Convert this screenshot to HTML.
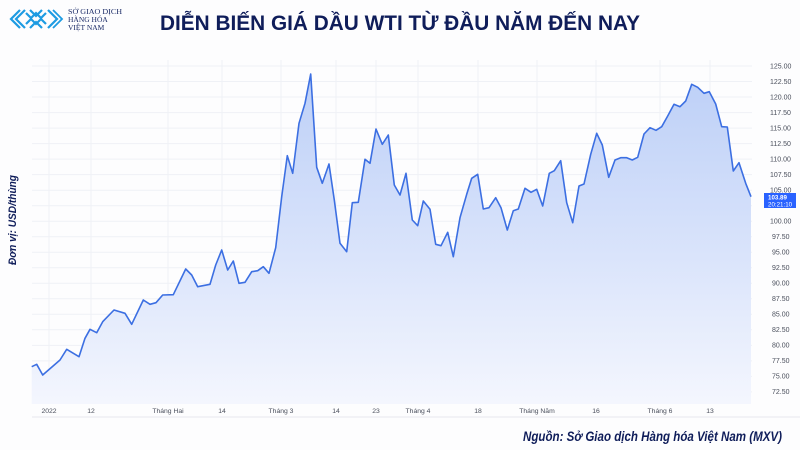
<!DOCTYPE html>
<html><head><meta charset="utf-8"><style>
html,body{margin:0;padding:0;background:#fff;}
svg{display:block;}
</style></head><body>
<svg width="800" height="450" viewBox="0 0 800 450" xmlns="http://www.w3.org/2000/svg">
<defs>
<linearGradient id="g" gradientUnits="userSpaceOnUse" x1="0" y1="70" x2="0" y2="410">
<stop offset="0" stop-color="#bccff7"/>
<stop offset="0.55" stop-color="#dae4fb"/>
<stop offset="1" stop-color="#f5f7fe"/>
</linearGradient>
</defs>
<rect width="800" height="450" fill="#fdfdfe"/>
<!-- grid -->
<g stroke="#eff1f6" stroke-width="1">
<line x1="32" y1="66" x2="752" y2="66"/><line x1="32" y1="81.5" x2="752" y2="81.5"/><line x1="32" y1="97" x2="752" y2="97"/><line x1="32" y1="112.6" x2="752" y2="112.6"/><line x1="32" y1="128.1" x2="752" y2="128.1"/><line x1="32" y1="143.6" x2="752" y2="143.6"/><line x1="32" y1="159.1" x2="752" y2="159.1"/><line x1="32" y1="174.6" x2="752" y2="174.6"/><line x1="32" y1="190.2" x2="752" y2="190.2"/><line x1="32" y1="205.7" x2="752" y2="205.7"/><line x1="32" y1="221.2" x2="752" y2="221.2"/><line x1="32" y1="236.7" x2="752" y2="236.7"/><line x1="32" y1="252.2" x2="752" y2="252.2"/><line x1="32" y1="267.8" x2="752" y2="267.8"/><line x1="32" y1="283.3" x2="752" y2="283.3"/><line x1="32" y1="298.8" x2="752" y2="298.8"/><line x1="32" y1="314.3" x2="752" y2="314.3"/><line x1="32" y1="329.8" x2="752" y2="329.8"/><line x1="32" y1="345.4" x2="752" y2="345.4"/><line x1="32" y1="360.9" x2="752" y2="360.9"/><line x1="32" y1="376.4" x2="752" y2="376.4"/><line x1="32" y1="391.9" x2="752" y2="391.9"/>
<line x1="49" y1="60" x2="49" y2="404"/><line x1="91" y1="60" x2="91" y2="404"/><line x1="168" y1="60" x2="168" y2="404"/><line x1="222" y1="60" x2="222" y2="404"/><line x1="281" y1="60" x2="281" y2="404"/><line x1="336" y1="60" x2="336" y2="404"/><line x1="376" y1="60" x2="376" y2="404"/><line x1="418" y1="60" x2="418" y2="404"/><line x1="478" y1="60" x2="478" y2="404"/><line x1="537" y1="60" x2="537" y2="404"/><line x1="596" y1="60" x2="596" y2="404"/><line x1="660" y1="60" x2="660" y2="404"/><line x1="710" y1="60" x2="710" y2="404"/>
</g>
<line x1="32" y1="417" x2="800" y2="417" stroke="#e6e8ee" stroke-width="1"/>
<polygon fill="url(#g)" points="31.7,366.7 36.7,364.3 42.7,375 60,360 66.7,349.3 79,356.7 85,338.3 90,329.3 96.7,332.7 102.7,321.7 114,310 125,313.3 131.7,324.3 143.3,300 150,304.3 156,302.7 162.7,295 173.3,294.7 185.7,269 191.7,275 197.7,286.7 210,284.3 215.7,265 221.7,250 227.7,270 233.3,261 239,283.3 245,282.3 251.7,271.7 257.7,270.7 263.3,266.7 269,273.3 275.7,247.7 281.7,196.7 287.3,155.7 292.7,173.3 299,123.3 305,103.3 310.7,74 316.7,167.3 322.3,183.3 329,164 334.3,200 340,243.3 346.7,251.7 352.3,202.7 358.3,202.3 365,159.3 370,163.3 376,129 382.3,144.3 388.3,135 394.3,185 400,195 406,173.3 412.3,220 417.7,225.7 423.3,201 430,209.3 435.7,244.3 441,245.7 447.7,232.3 453.3,256.7 460,217.7 466.7,194.3 471.7,178.3 477.7,174.3 483.3,209 489,207.7 495.7,197.7 501,207.7 507.3,230 513.3,210.7 518.3,209 525,188.3 531,192.3 536.7,189.3 542.7,206 549.3,173.3 554.3,170.7 560.7,160.7 566.7,202.7 572.7,222.7 579,186 584,184 590.7,154.3 596.7,133.3 602.3,145 608.7,177.3 615,160 620.7,157.7 626.7,157.7 632.3,160 637.7,157.3 644,134 650,127.7 656,130.3 661.7,126.7 667.7,116 674,104.3 680,106.7 685.7,101 691.7,84.3 697.7,87.3 704,93.3 709.3,91.7 715.7,104 721.7,126.7 727.3,127 733.3,171 739,162.7 745.7,183.3 751,196.7 751,404 31.7,404"/>
<polyline fill="none" stroke="#3c6fe2" stroke-width="1.6" stroke-linejoin="round" points="31.7,366.7 36.7,364.3 42.7,375 60,360 66.7,349.3 79,356.7 85,338.3 90,329.3 96.7,332.7 102.7,321.7 114,310 125,313.3 131.7,324.3 143.3,300 150,304.3 156,302.7 162.7,295 173.3,294.7 185.7,269 191.7,275 197.7,286.7 210,284.3 215.7,265 221.7,250 227.7,270 233.3,261 239,283.3 245,282.3 251.7,271.7 257.7,270.7 263.3,266.7 269,273.3 275.7,247.7 281.7,196.7 287.3,155.7 292.7,173.3 299,123.3 305,103.3 310.7,74 316.7,167.3 322.3,183.3 329,164 334.3,200 340,243.3 346.7,251.7 352.3,202.7 358.3,202.3 365,159.3 370,163.3 376,129 382.3,144.3 388.3,135 394.3,185 400,195 406,173.3 412.3,220 417.7,225.7 423.3,201 430,209.3 435.7,244.3 441,245.7 447.7,232.3 453.3,256.7 460,217.7 466.7,194.3 471.7,178.3 477.7,174.3 483.3,209 489,207.7 495.7,197.7 501,207.7 507.3,230 513.3,210.7 518.3,209 525,188.3 531,192.3 536.7,189.3 542.7,206 549.3,173.3 554.3,170.7 560.7,160.7 566.7,202.7 572.7,222.7 579,186 584,184 590.7,154.3 596.7,133.3 602.3,145 608.7,177.3 615,160 620.7,157.7 626.7,157.7 632.3,160 637.7,157.3 644,134 650,127.7 656,130.3 661.7,126.7 667.7,116 674,104.3 680,106.7 685.7,101 691.7,84.3 697.7,87.3 704,93.3 709.3,91.7 715.7,104 721.7,126.7 727.3,127 733.3,171 739,162.7 745.7,183.3 751,196.7"/>
<!-- y axis labels -->
<g font-family="Liberation Sans, sans-serif" font-size="7" fill="#4a4f5c">
<text x="770" y="68.5">125.00</text><text x="770" y="84">122.50</text><text x="770" y="99.5">120.00</text><text x="770" y="115">117.50</text><text x="770" y="130.5">115.00</text><text x="770" y="146">112.50</text><text x="770" y="161.5">110.00</text><text x="770" y="177">107.50</text><text x="770" y="192.5">105.00</text><text x="770" y="223.5">100.00</text><text x="772" y="239">97.50</text><text x="772" y="254.5">95.00</text><text x="772" y="270">92.50</text><text x="772" y="285.5">90.00</text><text x="772" y="301">87.50</text><text x="772" y="316.5">85.00</text><text x="772" y="332">82.50</text><text x="772" y="347.5">80.00</text><text x="772" y="363">77.50</text><text x="772" y="378.5">75.00</text><text x="772" y="394">72.50</text>
</g>
<rect x="764" y="193" width="32" height="15" fill="#2962ff"/>
<g font-family="Liberation Sans, sans-serif" font-size="6.2" fill="#fff" font-weight="bold">
<text x="768" y="199.5">103.89</text><text x="768" y="206.5" font-weight="normal">20:21:10</text>
</g>
<!-- x axis labels -->
<g font-family="Liberation Sans, sans-serif" font-size="6.8" fill="#4a4f5c" text-anchor="middle">
<text x="49" y="413">2022</text><text x="91" y="413">12</text><text x="168" y="413">Tháng Hai</text><text x="222" y="413">14</text><text x="281" y="413">Tháng 3</text><text x="336" y="413">14</text><text x="376" y="413">23</text><text x="418" y="413">Tháng 4</text><text x="478" y="413">18</text><text x="537" y="413">Tháng Năm</text><text x="596" y="413">16</text><text x="660" y="413">Tháng 6</text><text x="710" y="413">13</text>
</g>
<!-- y axis title -->
<text transform="translate(16,220) rotate(-90)" text-anchor="middle" font-family="Liberation Sans, sans-serif" font-size="11" font-weight="bold" font-style="italic" fill="#0f1d5a" textLength="90" lengthAdjust="spacingAndGlyphs">Đơn vị: USD/thùng</text>
<!-- title -->
<text x="160" y="30" font-family="Liberation Sans, sans-serif" font-size="21" font-weight="bold" fill="#0f1d5a" textLength="480" lengthAdjust="spacingAndGlyphs">DIỄN BIẾN GIÁ DẦU WTI TỪ ĐẦU NĂM ĐẾN NAY</text>
<!-- source -->
<text x="523" y="441" font-family="Liberation Sans, sans-serif" font-size="14" font-weight="bold" font-style="italic" fill="#0f1d5a" textLength="259" lengthAdjust="spacingAndGlyphs">Nguồn: Sở Giao dịch Hàng hóa Việt Nam (MXV)</text>
<!-- logo -->
<g fill="none" stroke="#1d9be2" stroke-width="2.2" stroke-linejoin="miter">
<polyline points="20,10 11,19 20,28"/>
<polyline points="25,10 16,19 25,28"/>
<polyline points="26,13 31,18 36,13 41,18 46,13"/>
<polyline points="26,24 31,19 36,24 41,19 46,24"/>
<polyline points="30,10 36,16 42,10"/>
<polyline points="30,28 36,22 42,28"/>
<polyline points="48,10 57,19 48,28"/>
<polyline points="53,10 62,19 53,28" stroke-width="1.8"/>
</g>
<g font-family="Liberation Serif, serif" font-size="7.5" fill="#1a2a66">
<text x="68" y="14" textLength="54" lengthAdjust="spacingAndGlyphs">SỞ GIAO DỊCH</text>
<text x="68" y="22">HÀNG HÓA</text>
<text x="68" y="30">VIỆT NAM</text>
</g>
</svg>
</body></html>
